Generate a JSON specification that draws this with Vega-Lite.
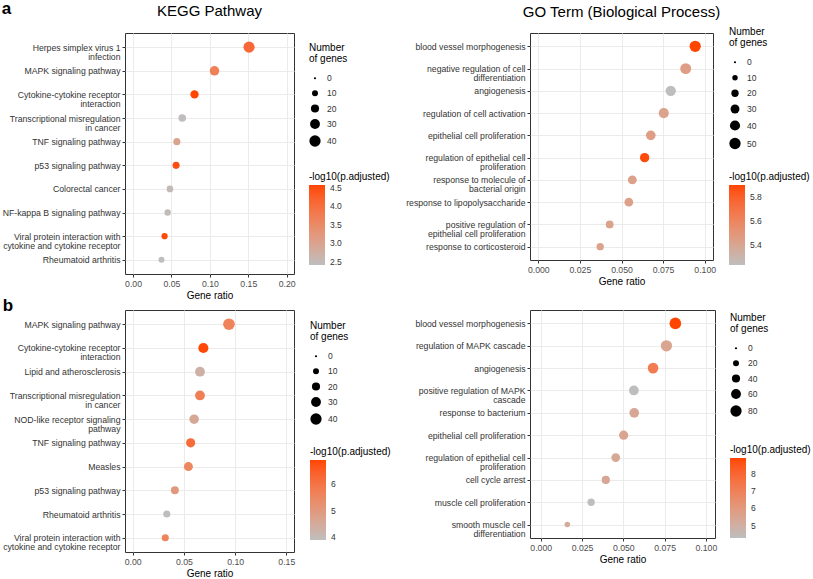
{
  "$schema": "https://vega.github.io/schema/vega-lite/v6.json",
  "background": "white",
  "padding": {"left": 1, "top": -1, "right": 5, "bottom": 3},
  "title": {"text": "a", "anchor": "start", "frame": "bounds", "fontSize": 17, "fontWeight": "bold", "offset": 0, "dy": 13.8, "color": "#000000"},
  "config": {
    "font": "Liberation Sans",
    "view": {"stroke": "#333333", "strokeWidth": 1},
    "axis": {"gridColor": "#ebebeb", "gridWidth": 1, "domain": false, "tickColor": "#333333", "tickSize": 3, "labelFontSize": 8.7, "labelColor": "#4d4d4d", "labelPadding": 2, "titleFontSize": 10, "titleFontWeight": "normal", "titleColor": "#000000", "titlePadding": 3},
    "legend": {"titleFontSize": 10, "titleFontWeight": "normal", "titleColor": "#000000", "labelFontSize": 8.5, "labelColor": "#333333", "labelOverlap": false},
    "title": {"fontSize": 15, "fontWeight": "normal", "color": "#000000", "anchor": "middle", "frame": "group", "offset": 13.6}
  },
  "columns": 2,
  "bounds": "flush",
  "spacing": {"row": 36, "column": 236},
  "resolve": {"scale": {"x": "independent", "y": "independent", "color": "independent", "size": "independent"}, "legend": {"color": "independent", "size": "independent"}},
  "concat": [
    {
      "title": "KEGG Pathway",
      "width": 169, "height": 241,
      "data": {"values": [
        {"term": "Herpes simplex virus 1\ninfection", "ratio": 0.151, "count": 39, "logp": 4.1},
        {"term": "MAPK signaling pathway", "ratio": 0.106, "count": 28, "logp": 3.7},
        {"term": "Cytokine-cytokine receptor\ninteraction", "ratio": 0.080, "count": 21, "logp": 4.57},
        {"term": "Transcriptional misregulation\nin cancer", "ratio": 0.064, "count": 17, "logp": 2.45},
        {"term": "TNF signaling pathway", "ratio": 0.057, "count": 15, "logp": 3.0},
        {"term": "p53 signaling pathway", "ratio": 0.056, "count": 15, "logp": 4.45},
        {"term": "Colorectal cancer", "ratio": 0.048, "count": 13, "logp": 2.5},
        {"term": "NF-kappa B signaling pathway", "ratio": 0.045, "count": 12, "logp": 2.47},
        {"term": "Viral protein interaction with\ncytokine and cytokine receptor", "ratio": 0.041, "count": 11, "logp": 4.52},
        {"term": "Rheumatoid arthritis", "ratio": 0.037, "count": 10, "logp": 2.42}
      ]},
      "mark": {"type": "circle", "opacity": 1},
      "encoding": {
        "y": {"field": "term", "type": "nominal", "sort": null, "scale": {"type": "point", "padding": 0.6},
              "axis": {"title": null, "labelExpr": "split(datum.label, '\\n')", "labelLineHeight": 9, "minExtent": 121, "maxExtent": 121, "grid": true, "labelColor": "#333333"}},
        "x": {"field": "ratio", "type": "quantitative", "scale": {"domain": [-0.0105, 0.2095], "nice": false, "zero": false},
              "axis": {"title": "Gene ratio", "values": [0, 0.05, 0.1, 0.15, 0.2], "format": ".2f"}},
        "size": {"field": "count", "type": "quantitative", "scale": {"type": "linear", "domain": [0, 40], "range": [5, 127]},
                 "legend": {"title": ["Number", "of genes"], "orient": "none", "legendX": 184, "legendY": 10, "values": [0, 10, 20, 30, 40], "symbolFillColor": "#000000", "symbolStrokeWidth": 0, "symbolOpacity": 1, "rowPadding": 6, "labelOffset": 6, "titlePadding": 10, "titleLineHeight": 11}},
        "color": {"field": "logp", "type": "quantitative", "scale": {"domain": [2.42, 4.57], "range": ["#bebebe", "#ff4500"], "interpolate": "lab"},
                  "legend": {"title": "-log10(p.adjusted)", "orient": "none", "direction": "vertical", "legendX": 184, "legendY": 139, "gradientLength": 80, "gradientThickness": 16, "values": [2.5, 3, 3.5, 4, 4.5], "format": ".1f", "titlePadding": 3, "labelOffset": 5, "gradientStrokeWidth": 0}}
      }
    },
    {
      "title": {"text": "GO Term (Biological Process)", "offset": 6.6},
      "width": 183, "height": 227,
      "data": {"values": [
        {"term": "blood vessel morphogenesis", "ratio": 0.0943, "count": 50, "logp": 5.9},
        {"term": "negative regulation of cell\ndifferentiation", "ratio": 0.0886, "count": 47, "logp": 5.45},
        {"term": "angiogenesis", "ratio": 0.0796, "count": 42, "logp": 5.23},
        {"term": "regulation of cell activation", "ratio": 0.0754, "count": 40, "logp": 5.42},
        {"term": "epithelial cell proliferation", "ratio": 0.0676, "count": 36, "logp": 5.45},
        {"term": "regulation of epithelial cell\nproliferation", "ratio": 0.0639, "count": 34, "logp": 5.88},
        {"term": "response to molecule of\nbacterial origin", "ratio": 0.0565, "count": 30, "logp": 5.43},
        {"term": "response to lipopolysaccharide", "ratio": 0.0544, "count": 29, "logp": 5.43},
        {"term": "positive regulation of\nepithelial cell proliferation", "ratio": 0.0429, "count": 23, "logp": 5.42},
        {"term": "response to corticosteroid", "ratio": 0.0372, "count": 20, "logp": 5.42}
      ]},
      "mark": {"type": "circle", "opacity": 1},
      "encoding": {
        "y": {"field": "term", "type": "nominal", "sort": null, "scale": {"type": "point", "padding": 0.6},
              "axis": {"title": null, "labelExpr": "split(datum.label, '\\n')", "labelLineHeight": 9, "grid": true, "labelColor": "#333333"}},
        "x": {"field": "ratio", "type": "quantitative", "scale": {"domain": [-0.005, 0.105], "nice": false, "zero": false},
              "axis": {"title": "Gene ratio", "values": [0, 0.025, 0.05, 0.075, 0.1], "format": ".3f"}},
        "size": {"field": "count", "type": "quantitative", "scale": {"type": "linear", "domain": [0, 50], "range": [5, 127]},
                 "legend": {"title": ["Number", "of genes"], "orient": "none", "legendX": 199, "legendY": -6, "values": [0, 10, 20, 30, 40, 50], "symbolFillColor": "#000000", "symbolStrokeWidth": 0, "symbolOpacity": 1, "rowPadding": 6.5, "labelOffset": 6, "titlePadding": 10, "titleLineHeight": 11}},
        "color": {"field": "logp", "type": "quantitative", "scale": {"domain": [5.23, 5.9], "range": ["#bebebe", "#ff4500"], "interpolate": "lab"},
                  "legend": {"title": "-log10(p.adjusted)", "orient": "none", "direction": "vertical", "legendX": 199, "legendY": 139, "gradientLength": 80, "gradientThickness": 16, "values": [5.4, 5.6, 5.8], "format": ".1f", "titlePadding": 3, "labelOffset": 5, "gradientStrokeWidth": 0}}
      }
    },
    {
      "title": {"text": "b", "anchor": "start", "frame": "bounds", "fontSize": 17, "fontWeight": "bold", "offset": 1, "dy": 6},
      "width": 169, "height": 242,
      "data": {"values": [
        {"term": "MAPK signaling pathway", "ratio": 0.094, "count": 43, "logp": 5.6},
        {"term": "Cytokine-cytokine receptor\ninteraction", "ratio": 0.069, "count": 32, "logp": 6.85},
        {"term": "Lipid and atherosclerosis", "ratio": 0.0657, "count": 30, "logp": 4.3},
        {"term": "Transcriptional misregulation\nin cancer", "ratio": 0.0657, "count": 30, "logp": 5.7},
        {"term": "NOD-like receptor signaling\npathway", "ratio": 0.060, "count": 28, "logp": 4.6},
        {"term": "TNF signaling pathway", "ratio": 0.0566, "count": 26, "logp": 6.2},
        {"term": "Measles", "ratio": 0.0544, "count": 25, "logp": 5.5},
        {"term": "p53 signaling pathway", "ratio": 0.0412, "count": 19, "logp": 5.0},
        {"term": "Rheumatoid arthritis", "ratio": 0.0333, "count": 15, "logp": 3.9},
        {"term": "Viral protein interaction with\ncytokine and cytokine receptor", "ratio": 0.0318, "count": 15, "logp": 5.6}
      ]},
      "mark": {"type": "circle", "opacity": 1},
      "encoding": {
        "y": {"field": "term", "type": "nominal", "sort": null, "scale": {"type": "point", "padding": 0.6},
              "axis": {"title": null, "labelExpr": "split(datum.label, '\\n')", "labelLineHeight": 9, "minExtent": 121, "maxExtent": 121, "grid": true, "labelColor": "#333333"}},
        "x": {"field": "ratio", "type": "quantitative", "scale": {"domain": [-0.0075, 0.1575], "nice": false, "zero": false},
              "axis": {"title": "Gene ratio", "values": [0, 0.05, 0.1, 0.15], "format": ".2f"}},
        "size": {"field": "count", "type": "quantitative", "scale": {"type": "linear", "domain": [0, 40], "range": [5, 127]},
                 "legend": {"title": ["Number", "of genes"], "orient": "none", "legendX": 185, "legendY": 11, "values": [0, 10, 20, 30, 40], "symbolFillColor": "#000000", "symbolStrokeWidth": 0, "symbolOpacity": 1, "rowPadding": 6, "labelOffset": 6, "titlePadding": 10, "titleLineHeight": 11}},
        "color": {"field": "logp", "type": "quantitative", "scale": {"domain": [3.9, 6.9], "range": ["#bebebe", "#ff4500"], "interpolate": "lab"},
                  "legend": {"title": "-log10(p.adjusted)", "orient": "none", "direction": "vertical", "legendX": 185, "legendY": 137, "gradientLength": 80, "gradientThickness": 16, "values": [4, 5, 6], "format": "d", "titlePadding": 3, "labelOffset": 5, "gradientStrokeWidth": 0}}
      }
    },
    {
      "width": 185, "height": 228,
      "data": {"values": [
        {"term": "blood vessel morphogenesis", "ratio": 0.0815, "count": 85, "logp": 8.95},
        {"term": "regulation of MAPK cascade", "ratio": 0.0761, "count": 80, "logp": 5.5},
        {"term": "angiogenesis", "ratio": 0.068, "count": 71, "logp": 7.2},
        {"term": "positive regulation of MAPK\ncascade", "ratio": 0.0564, "count": 59, "logp": 4.3},
        {"term": "response to bacterium", "ratio": 0.0566, "count": 59, "logp": 5.4},
        {"term": "epithelial cell proliferation", "ratio": 0.0502, "count": 52, "logp": 5.5},
        {"term": "regulation of epithelial cell\nproliferation", "ratio": 0.0454, "count": 47, "logp": 5.3},
        {"term": "cell cycle arrest", "ratio": 0.0394, "count": 41, "logp": 5.4},
        {"term": "muscle cell proliferation", "ratio": 0.0305, "count": 32, "logp": 4.3},
        {"term": "smooth muscle cell\ndifferentiation", "ratio": 0.0161, "count": 17, "logp": 5.2}
      ]},
      "mark": {"type": "circle", "opacity": 1},
      "encoding": {
        "y": {"field": "term", "type": "nominal", "sort": null, "scale": {"type": "point", "padding": 0.6},
              "axis": {"title": null, "labelExpr": "split(datum.label, '\\n')", "labelLineHeight": 9, "grid": true, "labelColor": "#333333"}},
        "x": {"field": "ratio", "type": "quantitative", "scale": {"domain": [-0.0065, 0.1055], "nice": false, "zero": false},
              "axis": {"title": "Gene ratio", "values": [0, 0.025, 0.05, 0.075, 0.1], "format": ".3f"}},
        "size": {"field": "count", "type": "quantitative", "scale": {"type": "linear", "domain": [0, 80], "range": [5, 127]},
                 "legend": {"title": ["Number", "of genes"], "orient": "none", "legendX": 200, "legendY": 3, "values": [0, 20, 40, 60, 80], "symbolFillColor": "#000000", "symbolStrokeWidth": 0, "symbolOpacity": 1, "rowPadding": 6, "labelOffset": 6, "titlePadding": 10, "titleLineHeight": 11}},
        "color": {"field": "logp", "type": "quantitative", "scale": {"domain": [4.27, 8.95], "range": ["#bebebe", "#ff4500"], "interpolate": "lab"},
                  "legend": {"title": "-log10(p.adjusted)", "orient": "none", "direction": "vertical", "legendX": 200, "legendY": 135, "gradientLength": 80, "gradientThickness": 16, "values": [5, 6, 7, 8], "format": "d", "titlePadding": 3, "labelOffset": 5, "gradientStrokeWidth": 0}}
      }
    }
  ]
}
